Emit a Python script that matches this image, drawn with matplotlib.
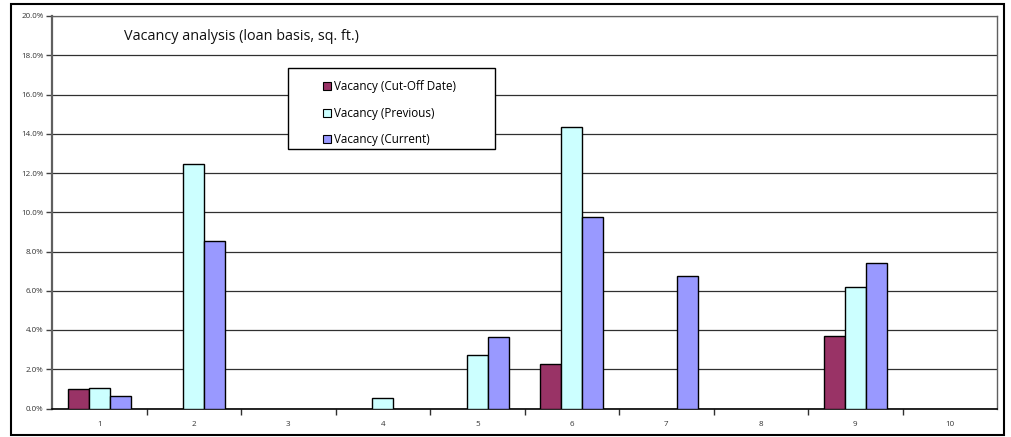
import numpy as np
import matplotlib.pyplot as plt
from matplotlib.patches import Rectangle, Patch

plt.rcParams['font.family'] = ['Open Sans', 'DejaVu Sans']

# vacancy by property (loan basis, sq. ft.), percent
properties = ['1', '2', '3', '4', '5', '6', '7', '8', '9', '10']
cutoff = [0.99, 0, 0, 0, 0, 2.29, 0, 0, 3.67, 0]
previous = [1.07, 12.48, 0, 0.54, 2.71, 14.33, 0, 0, 6.18, 0]
current = [0.64, 8.56, 0, 0, 3.65, 9.76, 6.77, 0, 7.40, 0]
yticks = np.arange(0, 20.1, 2.0)

series = [
    ('Vacancy (Cut-Off Date)', cutoff, '#993366'),
    ('Vacancy (Previous)', previous, '#CCFFFF'),
    ('Vacancy (Current)', current, '#9999FF'),
]

W, H = 1012, 437
fig = plt.figure(figsize=(W / 100, H / 100), dpi=100)
ax = fig.add_axes([52 / W, 1 - 408.5 / H, (997 - 52) / W, (408.5 - 16) / H])

x = np.arange(len(properties))
bw = 0.222
for k, (label, vals, color) in enumerate(series):
    v = np.array(vals, dtype=float)
    v[v == 0] = np.nan
    ax.bar(x + (k - 1) * bw, v, bw, color=color, edgecolor='black',
           linewidth=1.0, zorder=3, label=label)

ax.set_xlim(-0.5, len(properties) - 0.5)
ax.set_ylim(0, 20)
ax.set_yticks(yticks)
ax.set_yticklabels([f'{t:.1f}%' for t in yticks], fontsize=5.8, color='#333333')
ax.yaxis.grid(True, color='#303030', linewidth=0.9, zorder=0)

ax.set_xticks(x)
ax.set_xticklabels(properties, fontsize=5.8, color='#333333')
ax.tick_params(axis='x', length=0, pad=9)
ax.set_xticks(np.arange(0.5, len(properties) - 0.5), minor=True)
ax.tick_params(axis='x', which='minor', length=4, width=1, direction='out', color='#303030')
ax.tick_params(axis='y', length=4, width=1, direction='out', color='#404040', pad=2)

for side in ['left', 'right', 'top']:
    ax.spines[side].set_color('#606060')
ax.spines['left'].set_linewidth(1.6)
ax.spines['right'].set_linewidth(1.0)
ax.spines['top'].set_linewidth(0.9)
ax.spines['bottom'].set_color('black')
ax.spines['bottom'].set_linewidth(1.2)

ax.text(124 / W, 1 - 37 / H, 'Vacancy analysis (loan basis, sq. ft.)',
        transform=fig.transFigure, fontsize=10.4, va='center', ha='left', color='#111111')

# legend box with its own frame
fig.patches.append(Rectangle((288 / W, 1 - 149 / H), (495 - 288) / W, (149 - 68) / H,
                             transform=fig.transFigure, facecolor='white',
                             edgecolor='black', linewidth=1.0, zorder=5))
handles = [Patch(facecolor=c, edgecolor='black', linewidth=0.8) for _, _, c in series]
leg = fig.legend(handles, [s[0] for s in series], loc='upper left',
                 bbox_to_anchor=(314 / W, 1 - 71 / H), frameon=False, fontsize=8.4,
                 handlelength=0.7, handleheight=0.7, handletextpad=0.25,
                 labelspacing=1.15, borderpad=0.3)
leg.set_zorder(6)

# outer chart border
fig.patches.append(Rectangle((11 / W, 1 - 435 / H), (1004 - 11) / W, (435 - 4) / H,
                             transform=fig.transFigure, facecolor='none',
                             edgecolor='black', linewidth=1.5))

fig.savefig('out.png', dpi=100)
